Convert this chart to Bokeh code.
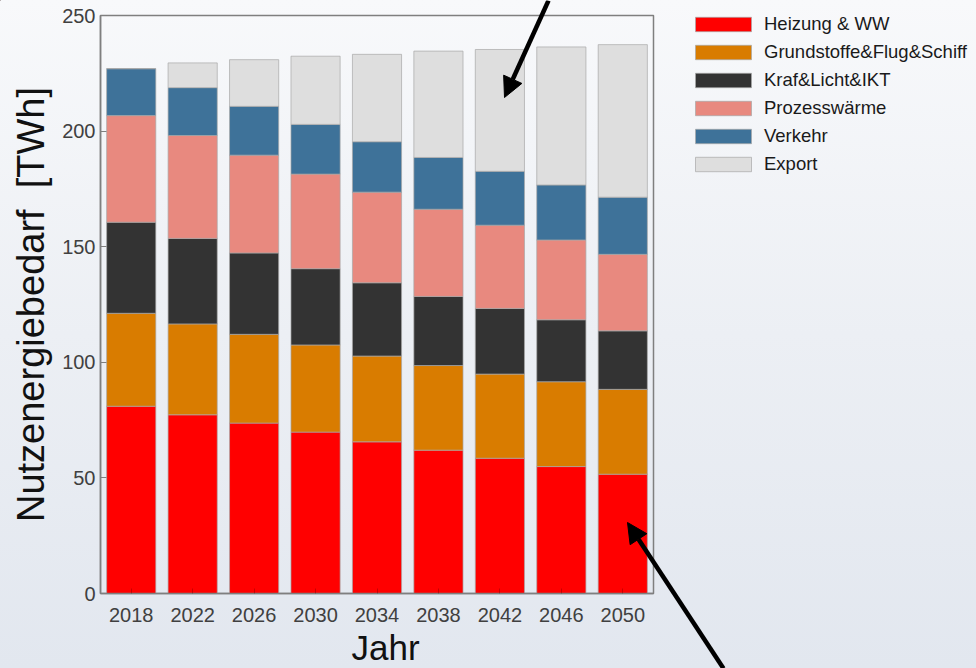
from bokeh.plotting import figure
from bokeh.models import (ColumnDataSource, FactorRange, Range1d, FixedTicker,
                          Legend, LegendItem, Arrow, NormalHead,
                          GlobalInlineStyleSheet, InlineStyleSheet)
from bokeh.core.properties import value
from bokeh.embed import file_html
from bokeh.resources import INLINE

# ---------------- data ----------------
years = ["2018", "2022", "2026", "2030", "2034", "2038", "2042", "2046", "2050"]
heizung = [81.0, 77.3, 73.7, 69.8, 65.6, 62.0, 58.5, 54.9, 51.6]
grundstoffe = [40.2, 39.3, 38.4, 37.7, 37.1, 36.6, 36.4, 36.7, 36.7]
kraft = [39.4, 37.0, 35.2, 33.0, 31.7, 29.9, 28.4, 26.8, 25.3]
prozess = [46.1, 44.5, 42.3, 40.9, 39.2, 37.7, 36.0, 34.5, 33.1]
verkehr = [20.3, 20.7, 21.1, 21.5, 21.8, 22.4, 23.3, 23.8, 24.7]
export = [0.0, 10.7, 20.2, 29.5, 37.8, 46.0, 52.7, 59.7, 66.0]

series_keys = ["heizung", "grundstoffe", "kraft", "prozess", "verkehr", "export"]
series_labels = ["Heizung & WW", "Grundstoffe&Flug&Schiff", "Kraf&Licht&IKT",
                 "Prozesswärme", "Verkehr", "Export"]
series_colors = ["#ff0000", "#d97c00", "#333333", "#e8897f", "#3e7299", "#dedede"]
y_ticks = [0, 50, 100, 150, 200, 250]
y_label = "Nutzenergiebedarf \u00a0[TWh]"
x_label = "Jahr"

source = ColumnDataSource(dict(year=years, heizung=heizung, grundstoffe=grundstoffe,
                               kraft=kraft, prozess=prozess, verkehr=verkehr, export=export))

FONT = "Liberation Sans"
AXIS_GRAY = "#7f7f7f"
BAR_EDGE = "#a8a8a8"
W, H = 960, 652

p = figure(x_range=FactorRange(*years), y_range=Range1d(0, 250),
           width=W, height=H,
           min_border_left=100, min_border_right=307, min_border_top=15, min_border_bottom=59,
           output_backend="svg", toolbar_location=None)

p.background_fill_alpha = 0
p.border_fill_alpha = 0
p.outline_line_color = AXIS_GRAY
p.outline_line_width = 1.5
p.grid.visible = False

grad = "linear-gradient(to bottom, #f8f9fb 0%, #eceff4 50%, #e2e7ef 100%)"
p.stylesheets = [
    GlobalInlineStyleSheet(css="html { min-height: 100%%; background: %s; } body { background: transparent; }" % grad),
]

renderers = p.vbar_stack(series_keys, x="year", width=0.8, source=source,
                         fill_color=series_colors, line_color=BAR_EDGE, line_width=0.7)

# ---------------- axes ----------------
xa = p.xaxis[0]
xa.axis_line_color = AXIS_GRAY
xa.axis_line_width = 1.5
xa.major_tick_in = 5
xa.major_tick_out = 0
xa.major_tick_line_color = "#600000"
xa.major_tick_line_alpha = 0.35
xa.major_label_standoff = 14
xa.major_label_text_font = FONT
xa.major_label_text_font_size = "20px"
xa.major_label_text_color = "#404040"

ya = p.yaxis[0]
ya.ticker = FixedTicker(ticks=y_ticks)
ya.axis_line_color = AXIS_GRAY
ya.axis_line_width = 1.5
ya.major_tick_in = 6
ya.major_tick_out = 0
ya.major_tick_line_color = AXIS_GRAY
ya.minor_tick_line_color = None
ya.major_label_standoff = 5
ya.major_label_text_font = FONT
ya.major_label_text_font_size = "20px"
ya.major_label_text_color = "#404040"
ya.axis_label = y_label
ya.axis_label_text_font = FONT
ya.axis_label_text_font_size = "38px"
ya.axis_label_text_font_style = "normal"
ya.axis_label_text_color = "#111111"
ya.axis_label_standoff = 7

# ---------------- overlay in page pixels: legend, x title and arrows (not clipped to the plot frame) ----------------
OW, OH = 976, 668
ov = figure(width=OW, height=OH, x_range=Range1d(0, OW), y_range=Range1d(OH, 0),
            x_axis_type=None, y_axis_type=None, min_border=0,
            output_backend="svg", toolbar_location=None)
ov.background_fill_alpha = 0
ov.border_fill_alpha = 0
ov.outline_line_color = None
ov.grid.visible = False
ov.stylesheets = [InlineStyleSheet(css=":host { position: absolute !important; left: 0px !important; top: 0px !important; pointer-events: none; }")]

# legend key proxies (same styling as the stacked bars, placed off-canvas so only the legend shows them)
key_renderers = [ov.vbar(x=[-100], bottom=[-100], top=[-90], width=1,
                         fill_color=c, line_color=BAR_EDGE, line_width=0.7)
                 for c in series_colors]
items = [LegendItem(label=lab, renderers=[r]) for lab, r in zip(series_labels, key_renderers)]
legend = Legend(items=items, location=(688, 493), orientation="vertical",
                glyph_width=70, glyph_height=18, label_height=18, spacing=6,
                padding=0, margin=0, label_standoff=6,
                label_text_font=FONT, label_text_font_size="18.5px", label_text_color="#1a1a1a",
                border_line_color=None, background_fill_alpha=0)
ov.add_layout(legend, "center")

ov.text(x=[385], y=[647], text=[x_label], text_align="center", text_baseline="middle",
        text_font=value(FONT), text_font_size="35px", text_color="#111111")

ov.add_layout(Arrow(end=NormalHead(size=20, fill_color="black", line_color="black"),
                    x_start=548, y_start=0, x_end=504, y_end=97,
                    line_color="black", line_width=4.5))
ov.add_layout(Arrow(end=NormalHead(size=20, fill_color="black", line_color="black"),
                    x_start=723, y_start=668, x_end=627, y_end=522,
                    line_color="black", line_width=4.5))

open("out.html", "w").write(file_html([p, ov], INLINE))
